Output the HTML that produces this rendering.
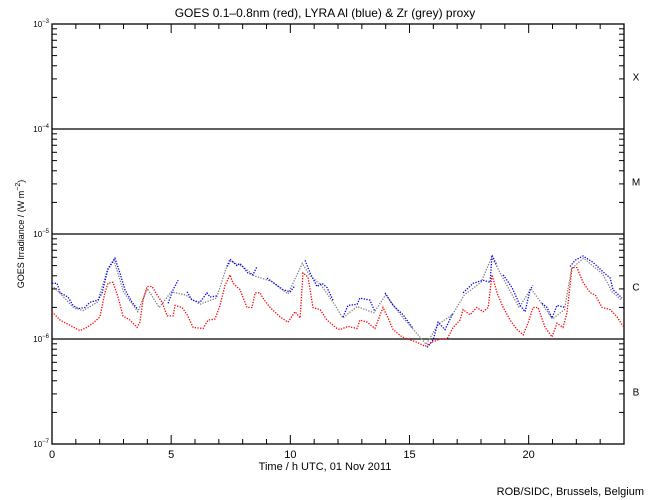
<!DOCTYPE html>
<html><head><meta charset="utf-8"><style>
body{margin:0;background:#fff;}
svg{display:block;font-family:"Liberation Sans",sans-serif;}
</style></head><body>
<svg id="chart" width="650" height="500" viewBox="0 0 650 500">
<text x="325" y="17" text-anchor="middle" font-size="12">GOES 0.1–0.8nm (red), LYRA Al (blue) &amp; Zr (grey) proxy</text>
<text x="325" y="470" text-anchor="middle" font-size="11">Time / h UTC, 01 Nov 2011</text>
<text x="24" y="234" text-anchor="middle" font-size="9" transform="rotate(-90 24 234)">GOES Irradiance / (W m<tspan dy="-4" font-size="7">−2</tspan><tspan dy="4">)</tspan></text>
<text x="644" y="495" text-anchor="end" font-size="11">ROB/SIDC, Brussels, Belgium</text>
<g id="axes"></g>
<g id="series"></g>
</svg>
<script>
const xTicks=[0,5,10,15,20];
const yDecades=[-3,-4,-5,-6,-7];
const classLabels=["X","M","C","B"];
const classLevels=[-3.5,-4.5,-5.5,-6.5];
const redH=[0,0.34,0.76,1.17,1.47,1.72,2.01,2.22,2.35,2.56,2.77,2.98,3.27,3.57,3.69,3.82,3.99,4.2,4.41,4.62,4.83,5.08,5.16,5.46,5.67,5.92,6.34,6.55,6.84,7.05,7.26,7.47,7.6,7.89,8.18,8.39,8.52,8.73,8.85,9.15,9.57,9.9,10.2,10.41,10.53,10.74,10.95,11.25,11.54,11.96,12.09,12.42,12.8,12.92,13.22,13.55,13.89,14.1,14.31,14.69,15.02,15.32,15.65,15.95,16.28,16.58,16.83,17.12,17.25,17.54,17.83,18.09,18.3,18.46,18.67,18.93,19.22,19.51,19.77,19.97,20.18,20.39,20.69,20.98,21.19,21.44,21.61,21.82,22.03,22.28,22.58,22.79,23.08,23.42,23.71,23.96];
const redV=[-5.74,-5.82,-5.87,-5.92,-5.89,-5.85,-5.79,-5.56,-5.47,-5.46,-5.6,-5.78,-5.82,-5.89,-5.84,-5.63,-5.5,-5.5,-5.58,-5.65,-5.78,-5.78,-5.68,-5.7,-5.77,-5.89,-5.9,-5.82,-5.81,-5.68,-5.49,-5.39,-5.47,-5.53,-5.7,-5.7,-5.56,-5.56,-5.61,-5.7,-5.79,-5.84,-5.74,-5.8,-5.37,-5.41,-5.7,-5.72,-5.82,-5.9,-5.91,-5.88,-5.9,-5.82,-5.84,-5.9,-5.7,-5.8,-5.91,-5.98,-6.01,-6.03,-6.07,-6.03,-6,-6,-5.89,-5.82,-5.72,-5.77,-5.7,-5.74,-5.7,-5.39,-5.56,-5.7,-5.82,-5.91,-5.96,-5.85,-5.7,-5.7,-5.89,-5.98,-5.85,-5.89,-5.75,-5.32,-5.32,-5.46,-5.56,-5.58,-5.7,-5.72,-5.79,-5.88];
const blueH=[0,0.21,0.34,0.67,0.88,1.09,1.38,1.59,1.93,2.1,2.35,2.64,2.85,3.06,3.36,3.61,null,4.87,5.08,5.29,null,5.67,5.87,6.21,6.5,6.63,6.92,null,7.34,7.47,7.76,7.89,8.22,8.43,8.6,null,9.02,9.27,9.69,9.99,10.2,null,10.62,10.83,11.12,11.33,11.54,11.79,null,12.21,12.42,12.8,12.92,13.34,13.55,null,13.97,14.31,14.73,15.15,null,15.74,15.99,16.2,16.49,16.83,null,17.25,17.67,18.09,18.38,18.46,18.67,null,18.93,19.3,19.64,19.85,20.06,20.18,null,20.56,20.77,20.98,21.19,21.53,null,21.74,21.95,22.28,22.7,23.12,23.42,23.54,23.92];
const blueV=[-5.47,-5.47,-5.56,-5.6,-5.68,-5.71,-5.7,-5.65,-5.63,-5.56,-5.33,-5.23,-5.37,-5.53,-5.65,-5.72,null,-5.66,-5.53,-5.44,null,-5.55,-5.63,-5.65,-5.56,-5.6,-5.59,null,-5.31,-5.24,-5.3,-5.28,-5.37,-5.39,-5.31,null,-5.42,-5.46,-5.53,-5.55,-5.49,null,-5.25,-5.37,-5.5,-5.47,-5.51,-5.63,null,-5.79,-5.68,-5.67,-5.61,-5.63,-5.74,null,-5.56,-5.68,-5.77,-5.9,null,-6.08,-6.01,-5.84,-5.91,-5.75,null,-5.56,-5.47,-5.44,-5.46,-5.2,-5.3,null,-5.39,-5.51,-5.68,-5.74,-5.53,-5.49,null,-5.66,-5.7,-5.8,-5.68,-5.7,null,-5.31,-5.25,-5.21,-5.27,-5.36,-5.42,-5.53,-5.61];
const greyH=[0,0.4,0.9,1.3,1.9,2.3,2.6,3.0,3.6,4.0,4.5,5.0,5.6,6.2,6.9,7.3,7.5,8.0,8.5,9.2,9.9,10.5,10.8,11.3,11.8,12.2,12.8,13.5,14.0,14.7,15.2,15.7,16.2,16.8,17.3,18.0,18.45,18.9,19.6,20.1,20.6,21.0,21.5,21.8,22.3,23.1,23.5,23.9];
const greyV=[-5.49,-5.58,-5.7,-5.73,-5.65,-5.36,-5.25,-5.55,-5.74,-5.52,-5.7,-5.55,-5.58,-5.67,-5.61,-5.33,-5.26,-5.31,-5.4,-5.45,-5.57,-5.28,-5.39,-5.49,-5.65,-5.8,-5.69,-5.75,-5.58,-5.79,-5.92,-6.05,-5.86,-5.77,-5.58,-5.46,-5.22,-5.41,-5.7,-5.52,-5.68,-5.81,-5.72,-5.33,-5.23,-5.38,-5.55,-5.63];
const X0=52,X1=624,Y0=24,Y1=444;
const xs=h=>X0+(h/24)*(X1-X0);
const ys=v=>Y0+(-3-v)*(Y1-Y0)/4;
const NS="http://www.w3.org/2000/svg";
const axes=document.getElementById('axes');
function mk(tag,attrs,parent){const e=document.createElementNS(NS,tag);for(const k in attrs)e.setAttribute(k,attrs[k]);parent.appendChild(e);return e;}
const frame=mk('rect',{x:X0,y:Y0,width:X1-X0,height:Y1-Y0,fill:'none',stroke:'#000','stroke-width':1.3},axes);


for(let h=0;h<=24;h++){
  const L=h%5===0?9:5;
  const t1=mk('line',{x1:xs(h),x2:xs(h),y1:Y1,y2:Y1-L,stroke:'#000'},axes);
  
  
  const t2=mk('line',{x1:xs(h),x2:xs(h),y1:Y0,y2:Y0+L,stroke:'#000'},axes);
  
  
}
xTicks.forEach(h=>{
  const t=mk('text',{x:xs(h),y:Y1+14,'text-anchor':'middle','font-size':11},axes);
  t.textContent=h;
  
  
});
yDecades.forEach((d,i)=>{
  const y=ys(d);
  if(i>0&&i<yDecades.length-1){
    const l=mk('line',{x1:X0,x2:X1,y1:y,y2:y,stroke:'#000','stroke-width':1.3},axes);
    
    
  }
  const t=mk('text',{x:X0-3,y:y+3,'text-anchor':'end','font-size':8},axes);
  t.innerHTML='10<tspan dy="-4" font-size="6">'+(d<0?'−':'')+Math.abs(d)+'</tspan>';
  
  
  if(i<yDecades.length-1){
    for(let m=2;m<=9;m++){
      const yy=ys(d-1+Math.log10(m));
      const a=mk('line',{x1:X0,x2:X0+5,y1:yy,y2:yy,stroke:'#000'},axes);
      
      
      const b=mk('line',{x1:X1,x2:X1-5,y1:yy,y2:yy,stroke:'#000'},axes);
      
      
    }
  }
});
classLabels.forEach((c,i)=>{
  const t=mk('text',{x:636,y:ys(classLevels[i])+4,'text-anchor':'middle','font-size':10},axes);
  t.textContent=c;
  
  
});
const ser=document.getElementById('series');
function draw(H,V,color,name){
  let pts=[];
  const flush=()=>{
    if(pts.length){
      const p=mk('polyline',{points:pts.join(' '),fill:'none',stroke:color,'stroke-width':1.3,'stroke-dasharray':'1.3 1.4'},ser);
      
      
    }
    pts=[];
  };
  for(let i=0;i<H.length;i++){
    if(H[i]===null||V[i]===null){flush();continue;}
    pts.push(xs(H[i]).toFixed(1)+','+ys(V[i]).toFixed(1));
  }
  flush();
}
draw(greyH,greyV,'#808080','zr-grey-series');
draw(blueH,blueV,'#0000ff','al-blue-series');
draw(redH,redV,'#ff0000','goes-red-series');
</script>
</body></html>
